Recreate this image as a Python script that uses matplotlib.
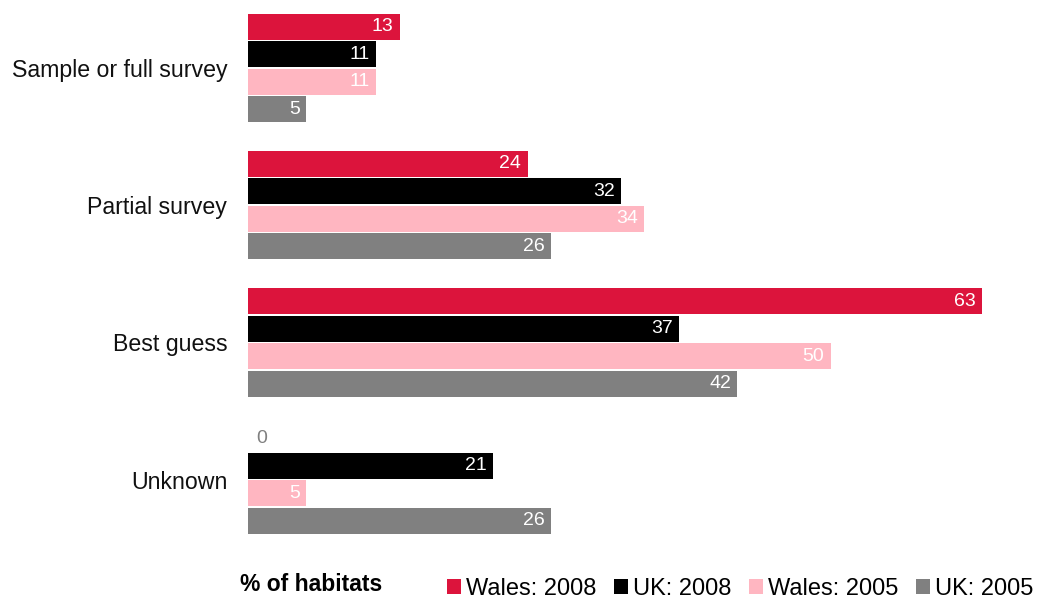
import matplotlib
matplotlib.use("Agg")
import matplotlib.pyplot as plt
from matplotlib.patches import Patch
import numpy as np

categories = ["Sample or full survey", "Partial survey", "Best guess", "Unknown"]
series_names = ["Wales: 2008", "UK: 2008", "Wales: 2005", "UK: 2005"]
wales_2008 = [13, 24, 63, 0]
uk_2008 = [11, 32, 37, 21]
wales_2005 = [11, 34, 50, 5]
uk_2005 = [5, 26, 42, 26]
series_values = [wales_2008, uk_2008, wales_2005, uk_2005]
colors = ["#DC143C", "#000000", "#FFB6C1", "#808080"]

plt.rcParams["font.family"] = ["Liberation Sans", "DejaVu Sans"]

fig = plt.figure(figsize=(10.37, 6.0), dpi=100)
# axes placed so that one data unit in y equals one group (~137 px)
top_px, bot_px = 2.0, 562.0
ax = fig.add_axes([248 / 1037, 1 - bot_px / 600, (1030 - 248) / 1037, (bot_px - top_px) / 600])

group_pos = np.arange(len(categories))
step = 0.2
bar_h = 0.19
for j, (vals, col) in enumerate(zip(series_values, colors)):
    ypos = group_pos + (j - 1.5) * step
    ax.barh(ypos, vals, height=bar_h, color=col, edgecolor="none")
    for y, v in zip(ypos, vals):
        if v > 0:
            ax.text(v - 0.55, y, str(v), ha="right", va="center",
                    color="white", fontsize=14)
        else:
            ax.text(0.7, y, str(v), ha="left", va="center",
                    color="#808080", fontsize=14)

ax.set_xlim(0, 67.1)
ax.set_ylim(3.6, -0.48)
ax.set_yticks(group_pos)
ax.set_yticklabels(categories, fontsize=16.7, color="#111111")
ax.tick_params(axis="y", length=0, pad=15)
ax.set_xticks([])
for s in ax.spines.values():
    s.set_visible(False)

fig.text(240 / 1037, 1 - 591 / 600, "% of habitats", fontsize=16.5, fontweight="bold",
         ha="left", va="baseline")

handles = [Patch(facecolor=c, edgecolor="none") for c in colors]
fig.legend(handles, series_names, loc="lower left", ncol=4,
           bbox_to_anchor=(447 / 1037, 0.0), frameon=False,
           prop={"size": 17}, borderaxespad=0.0,
           handlelength=0.6, handleheight=0.6, handletextpad=0.2,
           columnspacing=0.75, borderpad=0.0)

fig.savefig("out.png", dpi=100)
